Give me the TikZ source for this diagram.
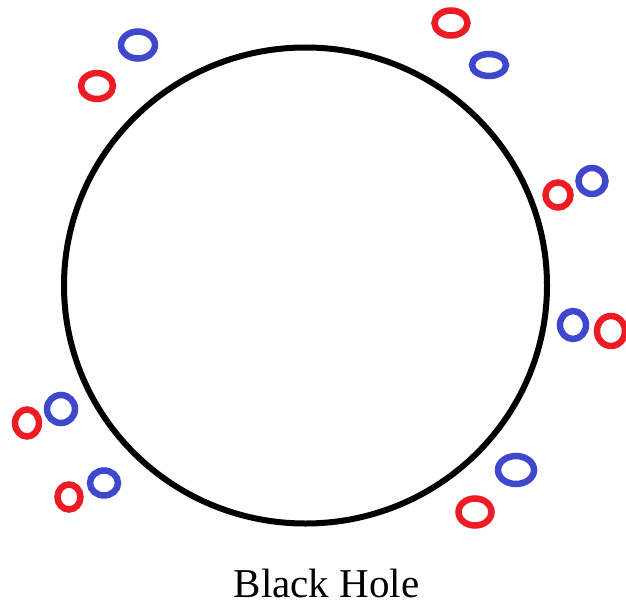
\documentclass[tikz,border=0pt]{standalone}
\usepackage{fontspec}
\setmainfont{Liberation Serif}
\definecolor{pred}{RGB}{237,28,36}
\definecolor{pblue}{RGB}{63,72,204}
\tikzset{
  hole/.style={draw=black, line width=6pt},
  redp/.style={draw=pred, line width=6.5pt},
  bluep/.style={draw=pblue, line width=6.5pt},
}
\begin{document}
\begin{tikzpicture}[x=1pt,y=-1pt]
\useasboundingbox (0,0) rectangle (626,607);
\clip (0,0) rectangle (626,607);
\fill[white] (0,0) rectangle (626,607);
\draw[hole] (305.5,285.5) ellipse [x radius=241.5, y radius=238];
% top left
\draw[bluep] (138,45) ellipse [x radius=17, y radius=13.5];
\draw[redp] (97,86) ellipse [x radius=16, y radius=13];
% top right
\draw[redp] (451,23) ellipse [x radius=16.5, y radius=12.5];
\draw[bluep] (489,65) ellipse [x radius=17, y radius=11];
% right upper
\draw[redp] (558,195) ellipse [x radius=12.5, y radius=12.5];
\draw[bluep] (592,181) ellipse [x radius=13.5, y radius=13];
% right middle
\draw[bluep] (573,325) ellipse [x radius=13, y radius=14];
\draw[redp] (611,331) ellipse [x radius=14, y radius=15];
% left lower
\draw[redp] (27,423) ellipse [x radius=12, y radius=13.5];
\draw[bluep] (61,409) ellipse [x radius=14, y radius=14];
\draw[redp] (69,497) ellipse [x radius=11.5, y radius=12.5];
\draw[bluep] (104,483) ellipse [x radius=14, y radius=12.5];
% right lower
\draw[bluep] (516,470) ellipse [x radius=18, y radius=14];
\draw[redp] (475,512) ellipse [x radius=16.5, y radius=13.5];
\node[anchor=base, font=\fontsize{41}{46}\selectfont, inner sep=0pt] (label) at (326.5,597) {Black Hole};
\end{tikzpicture}
\end{document}
